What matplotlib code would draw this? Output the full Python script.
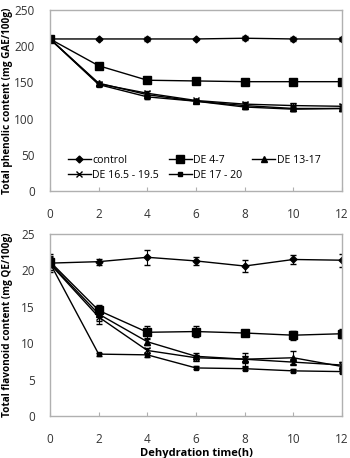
import matplotlib
matplotlib.use("Agg")
import matplotlib.pyplot as plt
from matplotlib.lines import Line2D

plt.rcParams['font.family'] = ['Open Sans', 'DejaVu Sans']

time_h = [0, 2, 4, 6, 8, 10, 12]
labels = ["control", "DE 4-7", "DE 13-17", "DE 16.5 - 19.5", "DE 17 - 20"]

# Top: total phenolic content
phen_control = [210, 210, 210, 210, 211, 210, 210]
phen_de47 = [210, 173, 153, 152, 151, 151, 151]
phen_de1317 = [210, 149, 133, 124, 118, 114, 114]
phen_de165 = [210, 148, 135, 125, 120, 118, 117]
phen_de1720 = [210, 147, 130, 124, 116, 113, 114]
phen_err = [3, 2, 3, 2, 3, 3, 3]

# Bottom: second measure
flav_control = [21.0, 21.2, 21.8, 21.3, 20.6, 21.5, 21.4]
flav_de47 = [21.2, 14.5, 11.5, 11.6, 11.4, 11.1, 11.3]
flav_de1317 = [21.0, 14.0, 10.2, 8.2, 7.8, 8.0, 6.8]
flav_de165 = [20.9, 13.6, 9.0, 8.0, 7.8, 7.4, 7.0]
flav_de1720 = [21.0, 8.5, 8.4, 6.6, 6.5, 6.2, 6.1]
flav_err_control = [0.6, 0.4, 1.0, 0.6, 0.8, 0.6, 0.9]
flav_err_de47 = [0.8, 0.8, 0.8, 0.8, 0.3, 0.6, 0.6]
flav_err_de1317 = [1.2, 0.9, 0.4, 0.4, 0.9, 0.9, 0.6]
flav_err_de165 = [0.9, 0.9, 0.4, 0.4, 0.5, 0.4, 0.4]
flav_err_de1720 = [0.5, 0.2, 0.3, 0.2, 0.2, 0.2, 0.2]

markers = ['D', 's', '^', 'x', 's']
msizes = [3.5, 6, 5, 5, 3]

fig = plt.figure(figsize=(3.5, 4.58), dpi=100)
W, H = 350, 458
ax1 = fig.add_axes([50 / W, 1 - 191 / H, 292 / W, 181 / H])
ax2 = fig.add_axes([50 / W, 1 - 416 / H, 292 / W, 182 / H])

top_series = [phen_control, phen_de47, phen_de1317, phen_de165, phen_de1720]
bot_series = [flav_control, flav_de47, flav_de1317, flav_de165, flav_de1720]
bot_errs = [flav_err_control, flav_err_de47, flav_err_de1317, flav_err_de165, flav_err_de1720]

handles = []
for s, lab, m, ms in zip(top_series, labels, markers, msizes):
    ax1.errorbar(time_h, s, yerr=phen_err, color='black', lw=1.0, marker=m,
                 ms=ms, mew=1.0, capsize=2, elinewidth=0.8)
    handles.append(Line2D([], [], color='black', lw=1.0, marker=m, ms=ms,
                          mew=1.0, label=lab))
for s, e, m, ms in zip(bot_series, bot_errs, markers, msizes):
    ax2.errorbar(time_h, s, yerr=e, color='black', lw=1.0, marker=m,
                 ms=ms, mew=1.0, capsize=2, elinewidth=0.8)

for ax, ymax, step in [(ax1, 250, 50), (ax2, 25, 5)]:
    ax.set_xlim(0, 12)
    ax.set_ylim(0, ymax)
    ax.set_xticks(range(0, 13, 2))
    ax.set_yticks(range(0, ymax + 1, step))
    for sp in ax.spines.values():
        sp.set_color('#b0b0b0')
        sp.set_linewidth(1.0)
    ax.tick_params(axis='x', direction='in', length=3, color='#b0b0b0',
                   labelsize=8.5, labelcolor='#333333', pad=12)
    ax.tick_params(axis='y', length=0, labelsize=8.5, labelcolor='#333333', pad=11)

ax1.set_ylabel("Total phenolic content (mg GAE/100g)", fontsize=7.2, fontweight='bold')
ax1.yaxis.set_label_coords(-0.125, 0.5)
ax2.set_ylabel("Total flavonoid content (mg QE/100g)", fontsize=7.2, fontweight='bold')
ax2.yaxis.set_label_coords(-0.125, 0.5)
ax2.set_xlabel("Dehydration time(h)", fontsize=8, fontweight='bold')
ax2.xaxis.set_label_coords(0.5, -0.175)

order = [0, 3, 1, 4, 2]
ax1.legend([handles[i] for i in order], [labels[i] for i in order],
           loc='lower left', bbox_to_anchor=(0.035, 0.015), ncol=3, frameon=False,
           fontsize=7.6, handlelength=2.2, handletextpad=0.15, columnspacing=0.9,
           labelspacing=0.4, borderpad=0.2)

fig.savefig("out.png", dpi=100)
